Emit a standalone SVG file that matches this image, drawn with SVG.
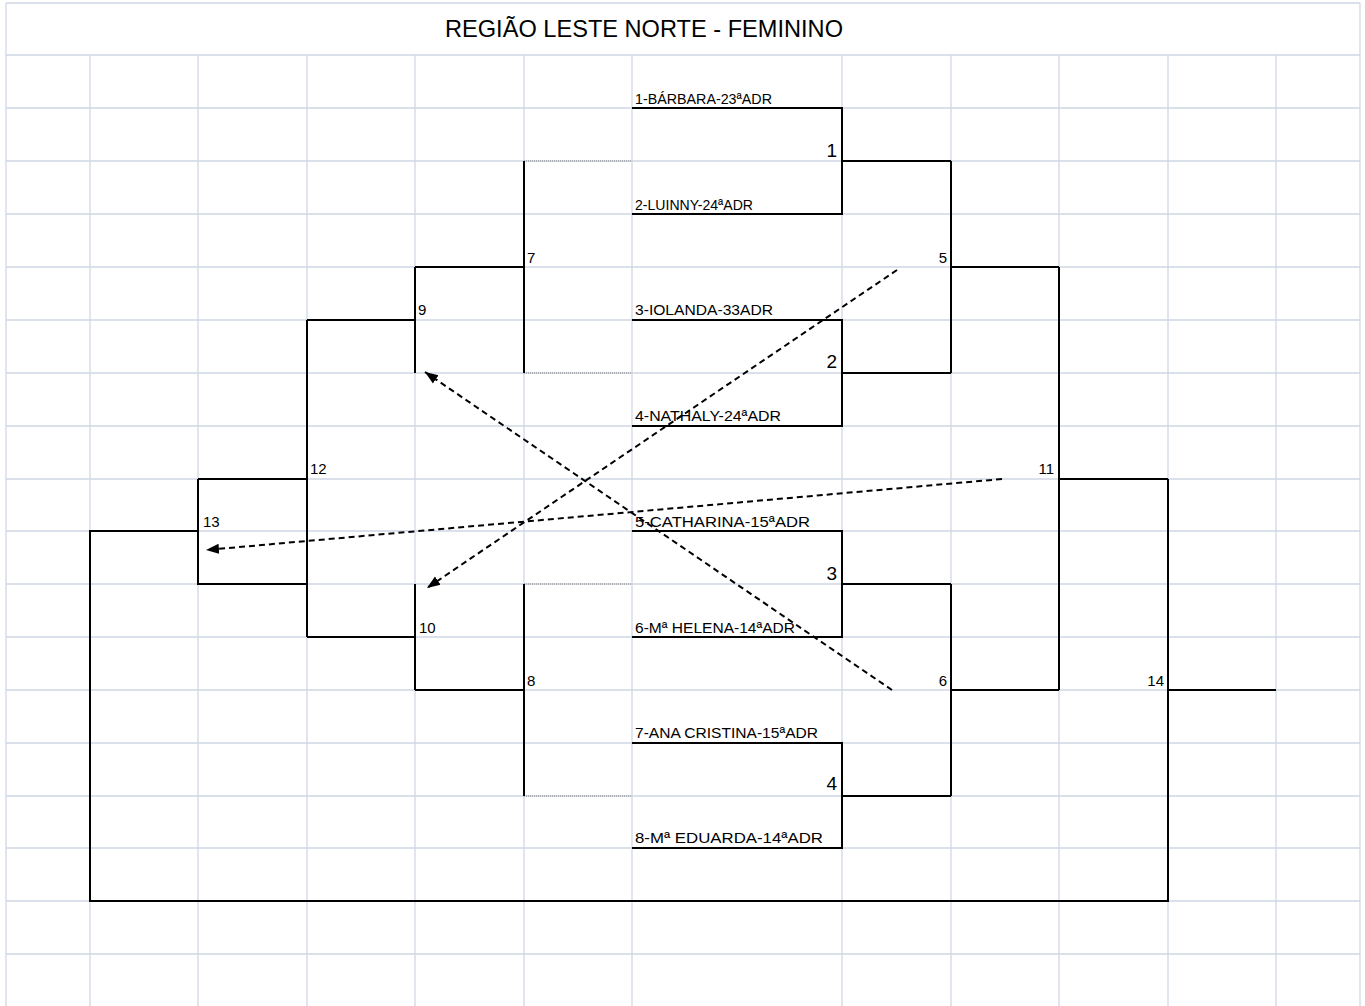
<svg xmlns="http://www.w3.org/2000/svg" width="1365" height="1006" viewBox="0 0 1365 1006">
<defs>
<style>
.g{stroke:#d0d7e5;stroke-width:1.3;fill:none}
.b{stroke:#000;stroke-width:2;fill:none}
.d{stroke:#808080;stroke-width:1;stroke-dasharray:1 1;fill:none}
.a{stroke:#000;stroke-width:2;stroke-dasharray:6 4;fill:none}
text{font-family:"Liberation Sans",Arial,sans-serif;fill:#000}
.t{font-size:24px}
.n{font-size:15.5px}
.s{font-size:15px}
.L{font-size:19px}
</style>
<marker id="ah" markerUnits="userSpaceOnUse" markerWidth="14" markerHeight="12" refX="13" refY="5" orient="auto" viewBox="0 0 14 10">
<path d="M0 0 L13 5 L0 10 Z" fill="#000"/>
</marker>
</defs>
<rect width="1365" height="1006" fill="#fff"/>
<g id="grid" class="g">
<path d="M6 3 H1360 M6 3 V55 M1360 3 V55"/>
<path d="M6 55 H1360 M6 108 H1360 M6 161 H1360 M6 214 H1360 M6 267 H1360 M6 320 H1360 M6 373 H1360 M6 426 H1360 M6 479 H1360 M6 531 H1360 M6 584 H1360 M6 637 H1360 M6 690 H1360 M6 743 H1360 M6 796 H1360 M6 848 H1360 M6 901 H1360 M6 954 H1360"/>
<path d="M6 55 V1006 M90 55 V1006 M198 55 V1006 M307 55 V1006 M415 55 V1006 M524 55 V1006 M632 55 V1006 M842 55 V1006 M951 55 V1006 M1059 55 V1006 M1168 55 V1006 M1276 55 V1006 M1360 55 V1006"/>
</g>
<g id="title"><text class="t" x="644" y="37" text-anchor="middle" textLength="398" lengthAdjust="spacingAndGlyphs">REGIÃO LESTE NORTE - FEMININO</text></g>
<g id="p1"><text class="n" x="635" y="104" font-size="14.3" textLength="137" lengthAdjust="spacingAndGlyphs">1-BÁRBARA-23ªADR</text></g>
<g id="p2"><text class="n" x="635" y="210" font-size="14" textLength="118" lengthAdjust="spacingAndGlyphs">2-LUINNY-24ªADR</text></g>
<g id="p3"><text class="n" x="635" y="315" textLength="138" lengthAdjust="spacingAndGlyphs">3-IOLANDA-33ADR</text></g>
<g id="p4"><text class="n" x="635" y="421" textLength="146" lengthAdjust="spacingAndGlyphs">4-NATHALY-24ªADR</text></g>
<g id="p5"><text class="n" x="635" y="527" font-size="16" textLength="175" lengthAdjust="spacingAndGlyphs">5-CATHARINA-15ªADR</text></g>
<g id="p6"><text class="n" x="635" y="633" textLength="160" lengthAdjust="spacingAndGlyphs">6-Mª HELENA-14ªADR</text></g>
<g id="p7"><text class="n" x="635" y="738" textLength="183" lengthAdjust="spacingAndGlyphs">7-ANA CRISTINA-15ªADR</text></g>
<g id="p8"><text class="n" x="635" y="843" font-size="16.5" textLength="188" lengthAdjust="spacingAndGlyphs">8-Mª EDUARDA-14ªADR</text></g>
<g id="m1"><path class="b" d="M632 108 H842 V214 H632 M842 161 H951"/><text class="L" x="837" y="157" text-anchor="end">1</text></g>
<g id="m2"><path class="b" d="M632 320 H842 V426 H632 M842 373 H951"/><text class="L" x="837" y="368" text-anchor="end">2</text></g>
<g id="m3"><path class="b" d="M632 531 H842 V637 H632 M842 584 H951"/><text class="L" x="837" y="580" text-anchor="end">3</text></g>
<g id="m4"><path class="b" d="M632 743 H842 V848 H632 M842 796 H951"/><text class="L" x="837" y="790" text-anchor="end">4</text></g>
<g id="m5"><path class="b" d="M951 161 V373 M951 267 H1059"/><text class="s" x="947" y="263" text-anchor="end">5</text></g>
<g id="m6"><path class="b" d="M951 584 V796 M951 690 H1059"/><text class="s" x="947" y="686" text-anchor="end">6</text></g>
<g id="m7"><path class="d" d="M524 161 H632 M524 373 H632"/><path class="b" d="M524 161 V373 M524 267 H415"/><text class="s" x="527" y="263">7</text></g>
<g id="m8"><path class="d" d="M524 584 H632 M524 796 H632"/><path class="b" d="M524 584 V796 M524 690 H415"/><text class="s" x="527" y="686">8</text></g>
<g id="m9"><path class="b" d="M415 267 V373 M415 320 H307"/><text class="s" x="418" y="315">9</text></g>
<g id="m10"><path class="b" d="M415 584 V690 M415 637 H307"/><text class="s" x="419" y="633">10</text></g>
<g id="m11"><path class="b" d="M1059 267 V690 M1059 479 H1168"/><text class="s" x="1054" y="474" text-anchor="end">11</text></g>
<g id="m12"><path class="b" d="M307 320 V637 M307 479 H198"/><text class="s" x="310" y="474">12</text></g>
<g id="m13"><path class="b" d="M198 479 V584 H307"/><text class="s" x="203" y="527">13</text></g>
<g id="m14"><path class="b" d="M1168 479 V901 H90 V531 H198 M1168 690 H1276"/><text class="s" x="1164" y="686" text-anchor="end">14</text></g>
<g id="connectors">
<line class="a" x1="897" y1="270" x2="427" y2="588" marker-end="url(#ah)"/>
<line class="a" x1="892" y1="690" x2="425" y2="372" marker-end="url(#ah)"/>
<line class="a" x1="1002" y1="479" x2="206" y2="550" marker-end="url(#ah)"/>
</g>
</svg>
